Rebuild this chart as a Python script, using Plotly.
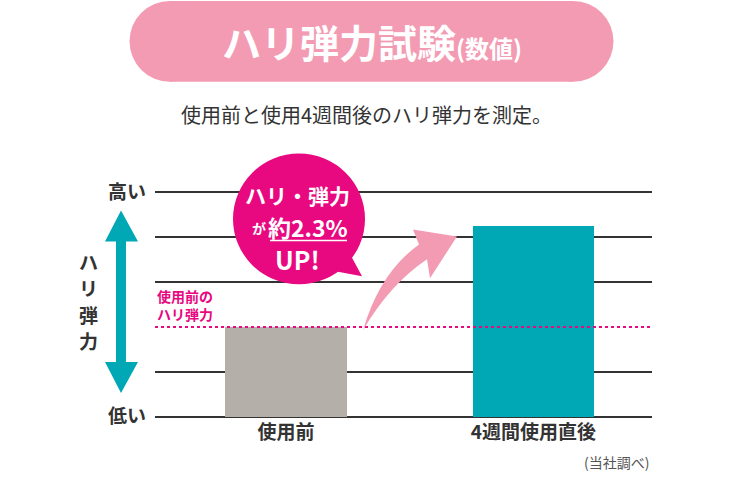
import plotly.graph_objects as go

# data
categories = ["使用前", "4週間使用直後"]
values = [2.0, 4.24]
bar_colors = ["#b4afa8", "#00a8b5"]
grid_vals = [0, 1, 3, 4, 5]
grid_text = ["低い", "", "", "", "高い"]
before_level = 2.0

FONT = "Noto Sans CJK JP"
MAGENTA = "#e8087f"
PINK = "#f49bb4"

# plot area in pixels (used to place decorations in paper coords)
L, R, T, B = 155, 652, 189.5, 419
Y0, Y1 = -0.05, 5.05


def px(x):
    return (x - L) / (R - L)


def py(y):
    return (B - y) / (B - T)


def path(points):
    return "M " + " L ".join(f"{px(x):.4f},{py(y):.4f}" for x, y in points) + " Z"


def note(x, y, text, size, color, weight="normal", **kw):
    d = dict(x=px(x), y=py(y), xref="paper", yref="paper", text=text,
             font=dict(family=FONT, size=size, color=color, weight=weight),
             showarrow=False, xanchor="center", yanchor="middle")
    d.update(kw)
    return d


fig = go.Figure()

fig.add_trace(
    go.Bar(
        x=categories,
        y=values,
        width=0.49,
        marker=dict(color=bar_colors, line=dict(width=0)),
        hoverinfo="skip",
    )
)

shapes = []

# title pill
shapes.append(dict(type="rect", xref="paper", yref="paper",
                   x0=px(170), x1=px(573), y0=py(0), y1=py(81),
                   fillcolor=PINK, line=dict(width=0), layer="above"))
for cx in (170, 573):
    shapes.append(dict(type="circle", xref="paper", yref="paper",
                       x0=px(cx - 40.5), x1=px(cx + 40.5), y0=py(0), y1=py(81),
                       fillcolor=PINK, line=dict(width=0), layer="above"))

# level before use (dotted)
shapes.append(dict(type="line", xref="paper", yref="y", x0=0, x1=1,
                   y0=before_level, y1=before_level,
                   line=dict(color=MAGENTA, width=2, dash="3px,3px"), layer="above"))

# teal double arrow on the left
shapes.append(dict(type="path", xref="paper", yref="paper",
                   path=path([(121, 210), (138, 241), (126, 241), (126, 362),
                              (138, 362), (121, 393), (105, 362), (116, 362),
                              (116, 241), (105, 241)]),
                   fillcolor="#00a8b5", line=dict(width=0), layer="above"))

# curved pink arrow
arrow = (f"M {px(363):.4f},{py(330):.4f} "
         f"Q {px(380):.4f},{py(272):.4f} {px(419):.4f},{py(244):.4f} "
         f"L {px(413):.4f},{py(229):.4f} L {px(457):.4f},{py(236):.4f} "
         f"L {px(430):.4f},{py(278):.4f} L {px(427):.4f},{py(259):.4f} "
         f"Q {px(390):.4f},{py(284):.4f} {px(363):.4f},{py(330):.4f} Z")
shapes.append(dict(type="path", xref="paper", yref="paper", path=arrow,
                   fillcolor=PINK, line=dict(width=0), layer="above"))

# speech bubble
shapes.append(dict(type="circle", xref="paper", yref="paper",
                   x0=px(233), x1=px(365), y0=py(284), y1=py(153),
                   fillcolor=MAGENTA, line=dict(width=0), layer="above"))
shapes.append(dict(type="path", xref="paper", yref="paper",
                   path=path([(347, 248), (362, 276), (330, 270)]),
                   fillcolor=MAGENTA, line=dict(width=0), layer="above"))
shapes.append(dict(type="line", xref="paper", yref="paper",
                   x0=px(270), x1=px(347), y0=py(240), y1=py(240),
                   line=dict(color="white", width=1.5), layer="above"))

annotations = [
    note(372, 40, "ハリ弾力試験<span style='font-size:24px'>(数値)</span>", 39, "white", "bold"),
    note(366, 114, "使用前と使用4週間後のハリ弾力を測定。", 20, "#333333"),
    note(297, 195, "ハリ・弾力", 21, "white", "bold"),
    note(259, 228, "が", 14, "white", "bold"),
    note(308, 227, "約2.3%", 23, "white", "bold"),
    note(297, 259, "UP!", 25, "white", "bold"),
    note(155, 305, "使用前の<br>ハリ弾力", 14, MAGENTA, "bold", xanchor="left", align="left"),
    note(651, 462, "(当社調べ)", 14, "#555555", xanchor="right"),
]
for ch, yy in zip("ハリ弾力", [261, 287, 314, 340]):
    annotations.append(note(88, yy, ch, 19, "#333333", "bold"))

fig.update_layout(
    width=744,
    height=500,
    margin=dict(l=L, r=744 - R, t=T, b=500 - B),
    paper_bgcolor="white",
    plot_bgcolor="white",
    showlegend=False,
    bargap=0,
    shapes=shapes,
    annotations=annotations,
    xaxis=dict(
        range=[-0.53, 1.48],
        showgrid=False,
        zeroline=False,
        showline=False,
        ticks="",
        tickfont=dict(family=FONT, size=19, color="#333333", weight="bold"),
        fixedrange=True,
    ),
    yaxis=dict(
        range=[Y0, Y1],
        tickvals=grid_vals,
        ticktext=grid_text,
        showgrid=True,
        gridcolor="#333333",
        gridwidth=2,
        zeroline=False,
        showline=False,
        ticks="",
        ticklabelstandoff=8,
        tickfont=dict(family=FONT, size=19, color="#333333", weight="bold"),
        fixedrange=True,
    ),
)

fig.write_html("out.html", config={"displayModeBar": False},
               post_script="document.body.style.margin='0';")
